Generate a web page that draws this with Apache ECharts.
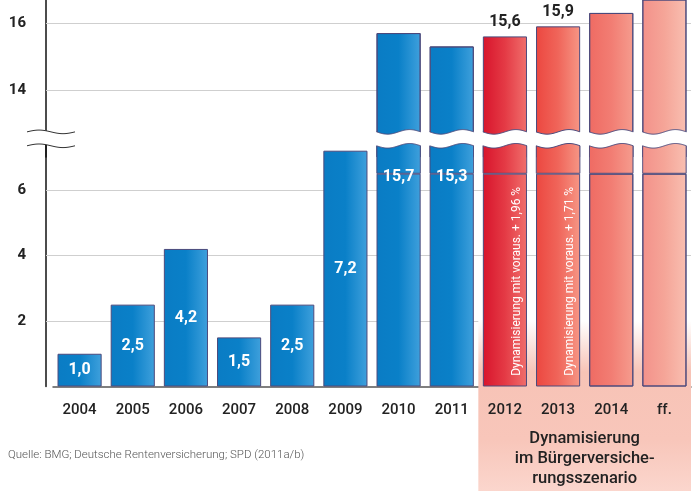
<!DOCTYPE html>
<html>
<head>
<meta charset="utf-8">
<script src="https://cdn.jsdelivr.net/npm/echarts@6/dist/echarts.min.js"></script>
<style>
  html, body { margin: 0; padding: 0; background: #fff; }
  #chart { width: 695px; height: 491px; }
</style>
</head>
<body>
<div id="chart"></div>
<script>
// data
const years = ['2004', '2005', '2006', '2007', '2008', '2009', '2010', '2011', '2012', '2013', '2014', 'ff.'];
const values = [1.0, 2.5, 4.2, 1.5, 2.5, 7.2, 15.7, 15.3, 15.6, 15.9, 16.3, 16.9];
const insideLabels = ['1,0', '2,5', '4,2', '1,5', '2,5', '7,2', '15,7', '15,3', '', '', '', ''];
const topLabels = ['', '', '', '', '', '', '', '', '15,6', '15,9', '', ''];
const notes = ['', '', '', '', '', '', '', '', 'Dynamisierung mit voraus. + 1,96 %', 'Dynamisierung mit voraus. + 1,71 %', '', ''];
const lowerTicks = [0, 2, 4, 6];
const upperTicks = [12, 14, 16];
const scenarioText = 'Dynamisierung\nim Bürgerversiche-\nrungsszenario';
const sourceText = 'Quelle: BMG; Deutsche Rentenversicherung; SPD (2011a/b)';

const FONT = 'Roboto, "DejaVu Sans", sans-serif';
const BORDER = '#4c4a7c';
const splitLevel = 6.5;       // the seam drawn across the tall bars
const breakUpper = 12.75;     // where the upper panel is cut
const breakLower = 7.35;      // where the lower panel is cut
const firstForecast = 8;

const grad = (a, b, c) => ({
  type: 'linear', x: 0, y: 0, x2: 1, y2: 0,
  colorStops: [{offset: 0, color: a}, {offset: 0.5, color: b}, {offset: 1, color: c}]
});
const barColors = i => {
  if (i < firstForecast) return grad('#0a7cc4', '#0a80c8', '#3fa0dc');
  return [grad('#d8142c', '#e43a45', '#f06f6c'),
          grad('#ec4740', '#f0655a', '#f69685'),
          grad('#ef6b63', '#f27d73', '#f59c8e'),
          grad('#f3918a', '#f5a598', '#f9bfb1')][i - firstForecast];
};
const item = (v, i, extra) => Object.assign({value: v, itemStyle: {color: barColors(i)}}, extra || {});

const chart = echarts.init(document.getElementById('chart'));

const gridLeft = 53, gridRight = 4;
const upperPx = 33.5, lowerPx = 32.75;
const upperMax = 16 + 23 / upperPx;
const lowerBottom = 104.5, lowerTop = 139;
const lowerMax = (491 - lowerBottom - lowerTop) / lowerPx;

const yAxisCommon = {
  type: 'value', interval: 2, offset: 7,
  axisLine: {show: true, lineStyle: {color: '#111', width: 1.5}},
  axisTick: {show: true, inside: true, length: 8, lineStyle: {color: '#cfcfcf'}},
  splitLine: {show: true, showMinLine: false, showMaxLine: false, lineStyle: {color: '#cfcfcf', width: 1}},
  axisLabel: {
    showMinLabel: false, showMaxLabel: false, margin: 20,
    color: '#222', fontSize: 15, fontWeight: 'bold', fontFamily: FONT
  }
};

const upperData = values.map((v, i) => v >= upperTicks[0] ? item(v, i, topLabels[i] ? {
  label: {show: true, position: 'top', distance: 6, formatter: topLabels[i],
    color: '#222', fontSize: 16, fontWeight: 'bold', fontFamily: FONT}
} : {}) : '-');

const baseData = values.map((v, i) => {
  const tall = v > splitLevel && i >= 6;
  const label = {show: false};
  if (insideLabels[i]) {
    Object.assign(label, {show: true, formatter: insideLabels[i],
      position: tall ? 'insideTop' : 'inside', distance: -5,
      color: '#fff', fontSize: 16, fontWeight: 'bold', fontFamily: FONT});
  } else if (notes[i]) {
    Object.assign(label, {show: true, formatter: notes[i], rotate: 90,
      position: ['78%', '95%'], align: 'left', verticalAlign: 'middle',
      color: '#fff', fontSize: 12, fontFamily: FONT});
  }
  return item(tall ? splitLevel : v, i, {label});
});
const restData = values.map((v, i) => (i >= 6 && v > splitLevel) ? item(v - splitLevel, i) : '-');

const barCommon = {type: 'bar', barWidth: '83%', clip: true,
  itemStyle: {borderColor: BORDER, borderWidth: 1}, animation: false};

chart.setOption({
  animation: false,
  grid: [
    {left: gridLeft, right: gridRight, top: 0, height: (upperMax - upperTicks[0]) * upperPx},
    {left: gridLeft, right: gridRight, top: lowerTop, bottom: lowerBottom}
  ],
  xAxis: [
    {type: 'category', gridIndex: 0, data: years, show: false},
    {type: 'category', gridIndex: 1, data: years, z: 0, position: 'bottom',
      axisLine: {show: true, lineStyle: {color: '#555', width: 1.5}},
      axisTick: {show: false}, axisLabel: {show: false}},
    {type: 'category', gridIndex: 1, data: years, z: 5, position: 'bottom',
      axisLine: {show: false}, axisTick: {show: false},
      axisLabel: {margin: 16, color: '#222', fontSize: 15, fontWeight: 500, fontFamily: FONT}}
  ],
  yAxis: [
    Object.assign({}, yAxisCommon, {gridIndex: 0, min: upperTicks[0], max: upperMax}),
    Object.assign({}, yAxisCommon, {gridIndex: 1, min: lowerTicks[0], max: lowerMax})
  ],
  series: [
    Object.assign({}, barCommon, {name: 'upper', xAxisIndex: 0, yAxisIndex: 0, z: 1, data: upperData}),
    Object.assign({}, barCommon, {name: 'base', xAxisIndex: 1, yAxisIndex: 1, z: 2, stack: 'low', data: baseData}),
    Object.assign({}, barCommon, {name: 'rest', xAxisIndex: 1, yAxisIndex: 1, z: 2, stack: 'low', data: restData,
      itemStyle: {borderColor: BORDER, borderWidth: 0.6}})
  ]
});

// decorations: axis break, forecast panel, texts
const xc = i => chart.convertToPixel({xAxisIndex: 1}, years[i]);
const band = xc(1) - xc(0);
const barW = band * 0.83;
const yU = chart.convertToPixel({yAxisIndex: 0}, breakUpper);
const yL = chart.convertToPixel({yAxisIndex: 1}, breakLower);
const axisX0 = 27, axisX1 = 75, ampBar = 2.3, ampAxis = 1.8;
const tallBars = values.map((v, i) => i).filter(i => values[i] > breakUpper);

const waveAt = (x, yc) => {
  for (const i of tallBars) {
    const l = xc(i) - barW / 2;
    if (x >= l && x <= l + barW) return yc + ampBar * Math.sin(2 * Math.PI * (x - l) / barW);
  }
  if (x >= axisX0 && x <= axisX1) return yc - ampAxis * Math.sin(2 * Math.PI * (x - axisX0) / (axisX1 - axisX0));
  return yc;
};
const path = (x0, x1, yc) => {
  const pts = [];
  for (let x = x0; x <= x1 + 0.01; x += 1) pts.push([x, waveAt(x, yc)]);
  return pts;
};

const graphics = [];
graphics.push({
  type: 'polygon', z: 10, silent: true,
  shape: {points: path(axisX0, 695, yU).concat(path(axisX0, 695, yL).reverse())},
  style: {fill: '#fff'}
});
graphics.push({type: 'polyline', z: 11, shape: {points: path(axisX0, axisX1, yU)}, style: {stroke: '#333', lineWidth: 1, fill: null}});
graphics.push({type: 'polyline', z: 11, shape: {points: path(axisX0, axisX1, yL)}, style: {stroke: '#333', lineWidth: 1, fill: null}});
tallBars.forEach(i => {
  const l = xc(i) - barW / 2;
  [yU, yL].forEach(yc => graphics.push({
    type: 'polyline', z: 11, shape: {points: path(l, l + barW, yc)},
    style: {stroke: BORDER, lineWidth: 1, fill: null}
  }));
});

const panelL = xc(firstForecast) - band / 2;
const panelR = xc(years.length - 1) + band / 2;
const panelTop = chart.convertToPixel({yAxisIndex: 1}, lowerTicks[1]);
graphics.push({
  type: 'rect', z: 1, silent: true,
  shape: {x: panelL, y: panelTop, width: panelR - panelL, height: 491 - panelTop},
  style: {fill: {type: 'linear', x: 0, y: 0, x2: 0, y2: 1, colorStops: [
    {offset: 0, color: '#ffffff'}, {offset: 0.3, color: '#f7c3b6'},
    {offset: 0.7, color: '#f8c6ba'}, {offset: 1, color: '#fbd6cd'}]}}
});
graphics.push({
  type: 'text', z: 12, x: (panelL + panelR) / 2, y: 429,
  style: {text: scenarioText, font: '500 16.5px ' + FONT, fill: '#222', align: 'center', verticalAlign: 'top', lineHeight: 20}
});
graphics.push({
  type: 'text', z: 12, x: 8, y: 455,
  style: {text: sourceText, font: '300 11.5px ' + FONT, fill: '#555', align: 'left', verticalAlign: 'middle'}
});
chart.setOption({graphic: graphics});
</script>
</body>
</html>
